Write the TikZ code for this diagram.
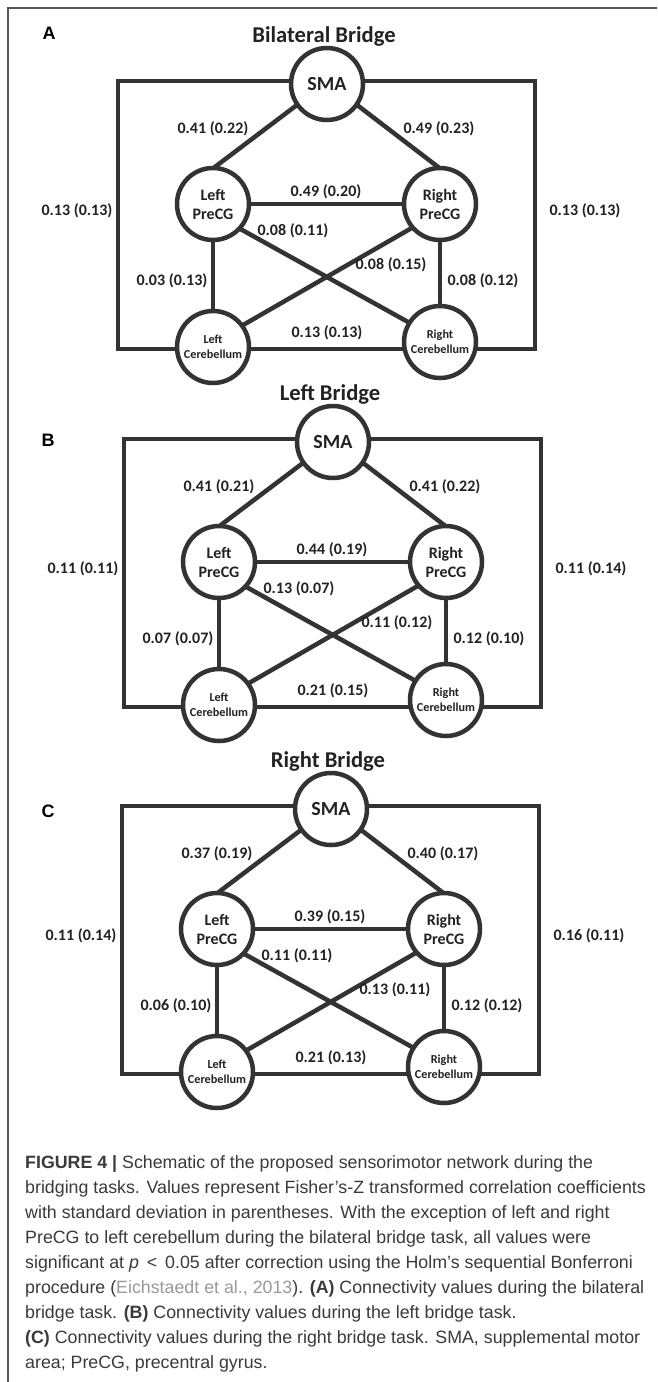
\documentclass[tikz,border=0pt]{standalone}
\usepackage{fontspec}
\setmainfont{Carlito}
\newfontfamily\capfont{Liberation Sans}
\usetikzlibrary{backgrounds}
\definecolor{ink}{HTML}{333333}
\definecolor{txt}{HTML}{222222}
\definecolor{captxt}{HTML}{3A3A3A}
\definecolor{citegray}{HTML}{9A9A9A}
\definecolor{framegray}{HTML}{555555}
\tikzset{
  netnode/.style={circle, draw=ink, line width=4.5pt, fill=white, minimum size=72pt, inner sep=0pt, text=txt, align=center},
  pcgnode/.style={netnode, font=\bfseries\fontsize{16}{19}\selectfont},
  smanode/.style={netnode, font=\bfseries\fontsize{20}{22}\selectfont},
  cbnode/.style={netnode, font=\bfseries\fontsize{12.2}{15}\selectfont},
  netedge/.style={draw=ink, line width=4.5pt},
  netval/.style={font=\bfseries\fontsize{16}{18}\selectfont, text=txt, inner sep=0pt},
  paneltitle/.style={font=\bfseries\fontsize{22.6}{25}\selectfont, text=txt, inner sep=0pt},
  panelletter/.style={font=\capfont\bfseries\fontsize{18}{20}\selectfont, text=black, inner sep=0pt},
  capline/.style={font=\capfont\fontsize{17.8}{20}\selectfont, text=captxt, anchor=base west, inner sep=0pt},
}
% #1 prefix, #2 dx, #3 dy, #4 title, #5 values
\newcommand\mynet[5]{%
\begin{scope}[shift={(#2,#3)}]
  \node[paneltitle] (#1-title) at (324,36) {#4};
  \node[smanode] (#1-SMA) at (327,84) {SMA};
  \node[pcgnode] (#1-LP) at (213,204) {Left\\PreCG};
  \node[pcgnode] (#1-RP) at (440,204) {Right\\PreCG};
  \node[cbnode] (#1-LC) at (213,347) {Left\\Cerebellum};
  \node[cbnode] (#1-RC) at (440,342) {Right\\Cerebellum};
  \coordinate (#1-tl) at (118,81);
  \coordinate (#1-tr) at (535,81);
  \coordinate (#1-bl) at (118,349);
  \coordinate (#1-br) at (535,349);
  \foreach \px/\py [count=\i] in {213/129,439/129,77/211,585/211,326/192,293/231,391/265,172/281,483/281,327/333}
    \coordinate (#1-l\i) at (\px,\py);
  \foreach \v [count=\i] in {#5}
    \node[netval] (#1-v\i) at (#1-l\i) {\v};
  \begin{scope}[on background layer]
    \draw[netedge] (#1-tl) -- (#1-bl) -- (#1-br) -- (#1-tr) -- cycle;
    \draw[netedge, shorten <=-3pt, shorten >=-3pt] (#1-SMA.215) -- (#1-LP.85);
    \draw[netedge, shorten <=-3pt, shorten >=-3pt] (#1-SMA.325) -- (#1-RP.95);
    \draw[netedge] (#1-LP.center) -- (#1-RP.center);
    \draw[netedge] (#1-LP.center) -- (#1-LC.center);
    \draw[netedge] (#1-RP.center) -- (#1-RC.center);
    \draw[netedge, shorten <=-3pt, shorten >=-3pt] (#1-LP.318) -- (#1-RC.148);
    \draw[netedge, shorten <=-3pt, shorten >=-3pt] (#1-RP.220) -- (#1-LC.36);
  \end{scope}
\end{scope}}
\begin{document}
\begin{tikzpicture}[x=1pt, y=-1pt]
  \useasboundingbox (0,0) rectangle (657,1382);
  \begin{scope}[on background layer]
    \fill[white] (0,0) rectangle (657,1382);
  \end{scope}
  \coordinate (frameL) at (8,1382);
  \coordinate (frameC) at (8,8);
  \coordinate (frameR) at (657,8);
  \draw[framegray, line width=1.2pt] (frameL) -- (frameC) -- (frameR);

  \mynet{A}{0}{0}{Bilateral Bridge}{{0.41 (0.22)},{0.49 (0.23)},{0.13 (0.13)},{0.13 (0.13)},{0.49 (0.20)},{0.08 (0.11)},{0.08 (0.15)},{0.03 (0.13)},{0.08 (0.12)},{0.13 (0.13)}}
  \mynet{B}{6}{358}{Left Bridge}{{0.41 (0.21)},{0.41 (0.22)},{0.11 (0.11)},{0.11 (0.14)},{0.44 (0.19)},{0.13 (0.07)},{0.11 (0.12)},{0.07 (0.07)},{0.12 (0.10)},{0.21 (0.15)}}
  \mynet{C}{4}{725}{Right Bridge}{{0.37 (0.19)},{0.40 (0.17)},{0.11 (0.14)},{0.16 (0.11)},{0.39 (0.15)},{0.11 (0.11)},{0.13 (0.11)},{0.06 (0.10)},{0.12 (0.12)},{0.21 (0.13)}}

  \node[panelletter] (letA) at (49,33) {A};
  \node[panelletter] (letB) at (48,440) {B};
  \node[panelletter] (letC) at (48,811) {C};

  \node[capline] (cap1) at (25,1168) {\textbf{FIGURE 4 |} Schematic of the proposed sensorimotor network during the};
  \node[capline] (cap2) at (25,1193) {bridging tasks. Values represent Fisher’s-Z transformed correlation coefficients};
  \node[capline] (cap3) at (25,1218) {with standard deviation in parentheses. With the exception of left and right};
  \node[capline] (cap4) at (25,1243) {PreCG to left cerebellum during the bilateral bridge task, all values were};
  \node[capline] (cap5) at (25,1268) {significant at \textit{p} \,<\, 0.05 after correction using the Holm’s sequential Bonferroni};
  \node[capline] (cap6) at (25,1293) {procedure (\textcolor{citegray}{Eichstaedt et al., 2013}). \textbf{(A)} Connectivity values during the bilateral};
  \node[capline] (cap7) at (25,1318) {bridge task. \textbf{(B)} Connectivity values during the left bridge task.};
  \node[capline] (cap8) at (25,1343) {\textbf{(C)} Connectivity values during the right bridge task. SMA, supplemental motor};
  \node[capline] (cap9) at (25,1368) {area; PreCG, precentral gyrus.};
\end{tikzpicture}
\end{document}
